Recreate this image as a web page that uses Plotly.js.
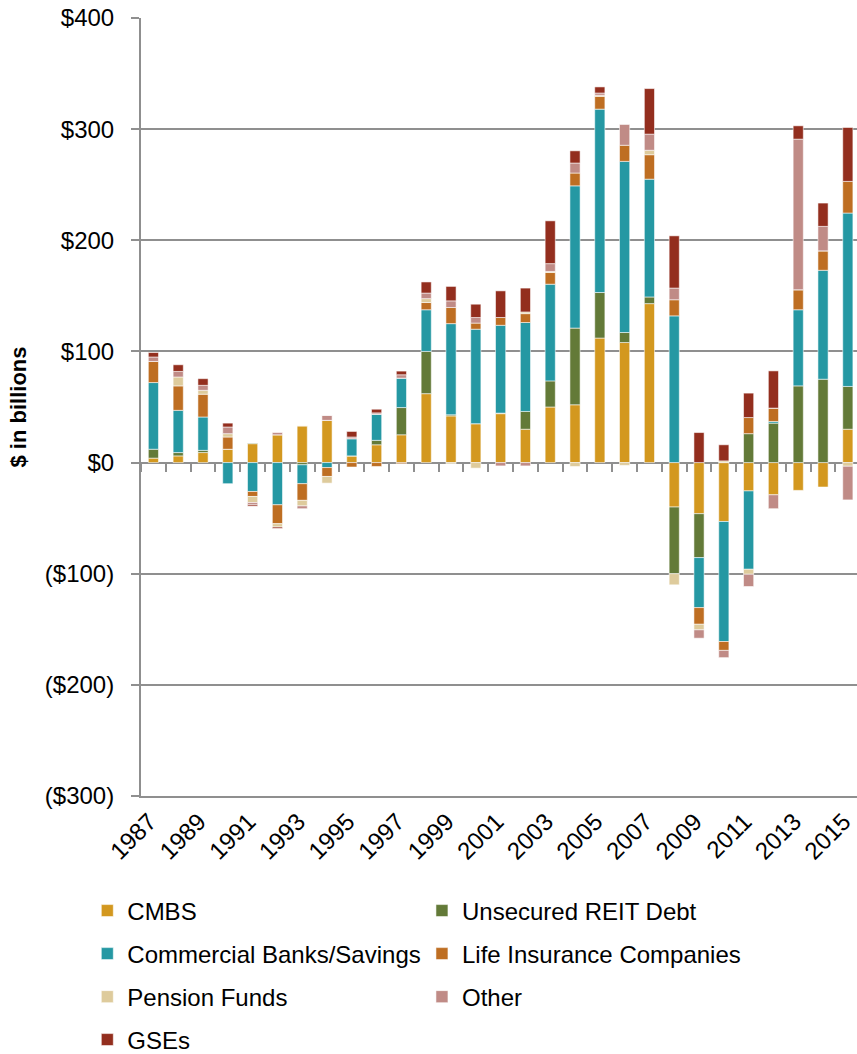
<!DOCTYPE html>
<html>
<head>
<meta charset="utf-8">
<script src="https://cdn.plot.ly/plotly-3.0.1.min.js"></script>
<style>html,body{margin:0;padding:0;overflow:hidden;background:#fff;}</style>
</head>
<body>
<div id="chart" style="width:857px;height:1054px;"></div>
<script>
const years = [1987,1988,1989,1990,1991,1992,1993,1994,1995,1996,1997,1998,1999,2000,2001,2002,2003,2004,2005,2006,2007,2008,2009,2010,2011,2012,2013,2014,2015];

const cmbs     = [4, 6, 9, 12, 17, 25, 33, 38, 6, 16, 25, 62, 42, 35, 44, 30, 50, 52, 112, 108, 143, -40, -46, -53, -25.5, -29, -25, -22, 30];
const reitDebt = [8, 3, 2, 0, 0.5, 0, -2, 0, 0, 4, 24.5, 38, 1, 0, 0.5, 16, 23.5, 69, 41, 9, 6, -60, -39.5, 0, 26, 35.5, 69, 75, 38.5];
const banks    = [60, 38, 30, -19, -26, -38, -17, -4.5, 15.5, 23.5, 26.5, 37.5, 82, 85, 79, 80, 87, 128, 165, 154, 106, 132, -45, -108, -70.5, 1.5, 68.5, 98, 156];
const lifeIns  = [19, 22, 20.5, 11, -4.5, -17, -15, -8, -4, -3.5, -1, 6.5, 14.5, 5.5, 7, 8, 10.5, 11.5, 11.5, 14.5, 22, 14.5, -15, -8, 14.5, 12, 18, 17.5, 28.5];
const pension  = [0, 8, 3.5, 3, -5.5, -3, -5, -6, 0, 0, 0, 3.5, -1, -5, 0, 1.5, 1, -3.5, 1, -2.5, 4, -10, -5, 1.5, -4.5, 0, 0, 0, -3.3];
const other    = [4, 5, 4.5, 6, -2, 2, -2.5, 4.5, 1.5, 1.2, 3, 5, 6, 5, -3, -3, 7, 9, 2, 19, 14.5, 10.5, -7.5, -6.5, -11, -12.5, 135.5, 22, -30.3];
const gses     = [4, 6, 6, 3.5, -1.2, -1.2, 0, 0, 5, 3.3, 3.3, 10, 13, 12, 24, 21.5, 38.5, 11, 5.5, 0, 41, 47, 27, 14.5, 22, 33.5, 12, 21, 48.5];

const seriesNames = ['CMBS', 'Unsecured REIT Debt', 'Commercial Banks/Savings', 'Life Insurance Companies', 'Pension Funds', 'Other', 'GSEs'];
const seriesValues = [cmbs, reitDebt, banks, lifeIns, pension, other, gses];
const seriesColors = ['#D3981F', '#637A38', '#2598A3', '#BE6E22', '#DECB9C', '#C08B86', '#932E1E'];

const yTickVals = [-300, -200, -100, 0, 100, 200, 300, 400];
const yTickText = ['($300)', '($200)', '($100)', '$0', '$100', '$200', '$300', '$400'];
const xTickVals = [1987, 1989, 1991, 1993, 1995, 1997, 1999, 2001, 2003, 2005, 2007, 2009, 2011, 2013, 2015];
const xTickText = xTickVals.map(String);

const FONT = 'Liberation Sans, Arial, sans-serif';
const GRID = '#8f8f8f';

// legend placement: two columns, four rows
const legendCols = [-0.075, 0.3924];
const legendRows = [-0.1478, -0.2031, -0.2584, -0.3136];

const traces = seriesNames.map((name, i) => ({
  type: 'bar',
  name: name,
  x: years,
  y: seriesValues[i],
  marker: {color: seriesColors[i], line: {color: 'rgba(255,255,255,0.55)', width: 1}},
  legend: i === 0 ? 'legend' : 'legend' + (i + 1),
  hoverinfo: 'x+y+name'
}));

traces.push({
  type: 'scatter', mode: 'markers', x: years, y: years.map(() => null),
  xaxis: 'x2', yaxis: 'y', showlegend: false, hoverinfo: 'skip'
});

const layout = {
  width: 857, height: 1054,
  margin: {l: 141, r: 0, t: 18, b: 258, pad: 0, autoexpand: false},
  barmode: 'relative',
  bargap: 0.59,
  paper_bgcolor: '#ffffff',
  plot_bgcolor: '#ffffff',
  font: {family: FONT, size: 24, color: '#000'},
  xaxis: {
    range: [1986.5, 2015.37],
    tickmode: 'array', tickvals: xTickVals, ticktext: xTickText,
    tickangle: -45, ticks: '',
    ticklabeloverflow: 'allow',
    ticklabelshift: -4,
    showline: true, linecolor: GRID, linewidth: 2,
    showgrid: false, zeroline: false,
    tickfont: {family: FONT, size: 24, color: '#000'}
  },
  xaxis2: {
    overlaying: 'x', anchor: 'free', position: 300 / 700, side: 'bottom',
    range: [1986.5, 2015.37],
    tickmode: 'linear', tick0: 1986.5, dtick: 1,
    ticks: 'outside', ticklen: 8, tickwidth: 2, tickcolor: GRID,
    showticklabels: false, showline: false, showgrid: false, zeroline: false
  },
  yaxis: {
    range: [-300, 400],
    tickmode: 'array', tickvals: yTickVals, ticktext: yTickText,
    ticks: 'outside', ticklen: 8, tickwidth: 2, tickcolor: GRID,
    ticklabelstandoff: 12,
    showline: true, linecolor: GRID, linewidth: 2,
    showgrid: true, gridcolor: GRID, gridwidth: 2,
    zeroline: true, zerolinecolor: GRID, zerolinewidth: 2,
    tickfont: {family: FONT, size: 24, color: '#000'},
    title: {text: '<b>$ in billions</b>', font: {family: 'Liberation Sans Narrow, Arial Narrow, ' + FONT, size: 22, color: '#000'}, standoff: 12}
  },
  showlegend: true
};

seriesNames.forEach((name, i) => {
  const key = i === 0 ? 'legend' : 'legend' + (i + 1);
  layout[key] = {
    x: legendCols[i % 2], y: legendRows[Math.floor(i / 2)],
    xanchor: 'left', yanchor: 'middle',
    orientation: 'h', bgcolor: 'rgba(0,0,0,0)', borderwidth: 0,
    font: {family: FONT, size: 24, color: '#000'},
    itemwidth: 30
  };
});

Plotly.newPlot('chart', traces, layout, {displayModeBar: false, staticPlot: true});
</script>
</body>
</html>
